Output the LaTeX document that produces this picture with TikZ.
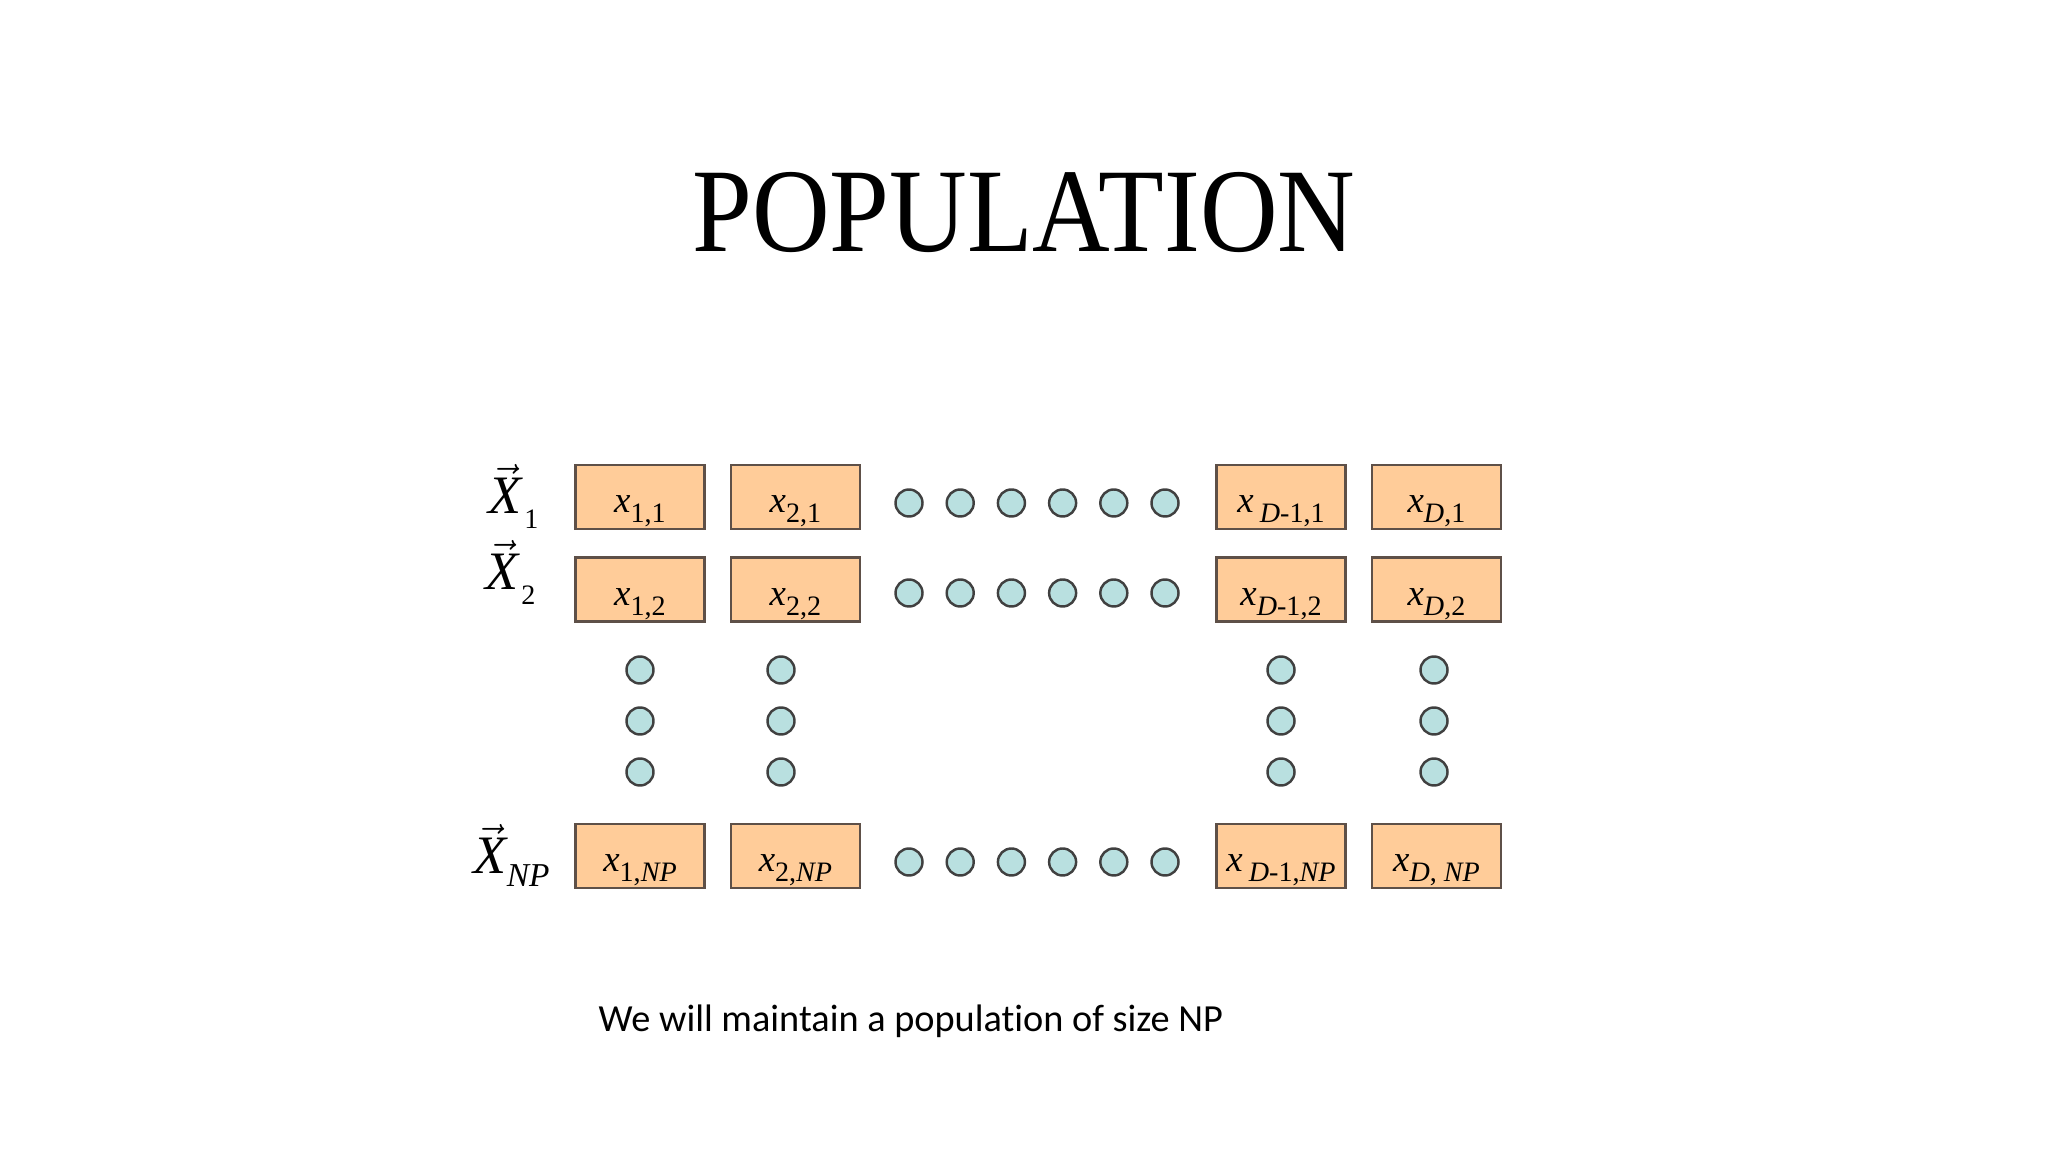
\documentclass[tikz,border=0pt]{standalone}
\usepackage{fontspec}
\setmainfont{Liberation Serif}
\newfontfamily\notefont[Ligatures=NoCommon]{Carlito}
\usepackage{amsmath}
\usepackage{tikz}
\usetikzlibrary{positioning}
\definecolor{cellfill}{HTML}{FFCC99}
\definecolor{celldraw}{HTML}{5E5048}
\definecolor{genefill}{HTML}{B9E0E0}
\def\CellGap{2.4mm}
\def\RowGap{2.6mm}
\newcommand{\xsub}[1]{\raisebox{-1mm}{\fontsize{8}{9}\selectfont #1}}
\newcommand{\xcell}[1]{\textit{x}\xsub{#1}}
\newcommand{\vecX}[2]{\fontsize{15.4}{16}\selectfont$\vec{\mbox{\itshape X}}$#1\raisebox{-1.5mm}{\fontsize{8}{9}\selectfont #2}}

\begin{document}
\begin{tikzpicture}[x=0.1mm,y=-0.1mm,
	cell/.style={draw=celldraw, fill=cellfill, line width=0.7pt, minimum width=12.9mm, minimum height=6.4mm, inner sep=0pt, text height=3.4mm, text depth=0.2mm, font=\fontsize{10.5}{12}\selectfont},
	gene/.style={circle, draw=black!75, fill=genefill, line width=0.7pt, minimum size=2.7mm, inner sep=0pt}]
	\useasboundingbox (0,0) rectangle (2048,1152);
	% title and note
	\node[anchor=base, inner sep=0] (title) at (1024,252) {\fontsize{34}{36}\selectfont\scalebox{0.9}[1]{POPULATION}};
	\node[anchor=base west, inner sep=0] (note) at (598,1032) {\notefont\fontsize{10.9}{12}\selectfont We will maintain a population of size NP};
	% first row
	\node[cell] (x11) at (640,497) {\xcell{1,1}};
	\node[cell, right=\CellGap of x11] (x21) {\xcell{2,1}};
	\node[cell] (xDm11) at (1281,497) {\textit{x}\,\xsub{\textit{D}-1,1}};
	\node[cell, right=\CellGap of xDm11] (xD1) {\xcell{\textit{D},1}};
	% second row
	\node[cell, below=\RowGap of x11] (x12) {\xcell{1,2}};
	\node[cell, below=\RowGap of x21] (x22) {\xcell{2,2}};
	\node[cell, below=\RowGap of xDm11] (xDm12) {\xcell{\textit{D}-1,2}};
	\node[cell, below=\RowGap of xD1] (xD2) {\xcell{\textit{D},2}};
	% last row
	\node[cell] (x1NP) at (640,856) {\xcell{1,\textit{NP}}};
	\node[cell, right=\CellGap of x1NP] (x2NP) {\xcell{2,\textit{NP}}};
	\node[cell] (xDm1NP) at (1281,856) {\textit{x}\,\xsub{\textit{D}-1,\textit{NP}}};
	\node[cell, right=\CellGap of xDm1NP] (xDNP) {\xcell{\textit{D}, \textit{NP}}};
	% vector labels
	\node[anchor=base west, inner sep=0] (X1) at (488,514) {\vecX{\kern0.25mm}{1}};
	\node[anchor=base west, inner sep=0] (X2) at (485,590) {\vecX{\kern0.25mm}{2}};
	\node[anchor=base west, inner sep=0] (XNP) at (473,874) {\fontsize{15.4}{16}\selectfont$\vec{\mbox{\itshape X}}$\raisebox{-1.3mm}{\fontsize{9.5}{10}\selectfont\itshape NP}};
	% dots along the rows
	\foreach \i in {0,...,5} {
		\node[gene] (ra\i) at (909+51.2*\i,503) {};
		\node[gene] (rb\i) at (909+51.2*\i,593) {};
		\node[gene] (rn\i) at (909+51.2*\i,862) {};
	}
	% dots down the columns
	\foreach \c/\x in {a/640,b/781,c/1281,d/1434}
		\foreach \j in {0,1,2}
			\node[gene] (c\c\j) at (\x,670+51*\j) {};
\end{tikzpicture}
\end{document}
